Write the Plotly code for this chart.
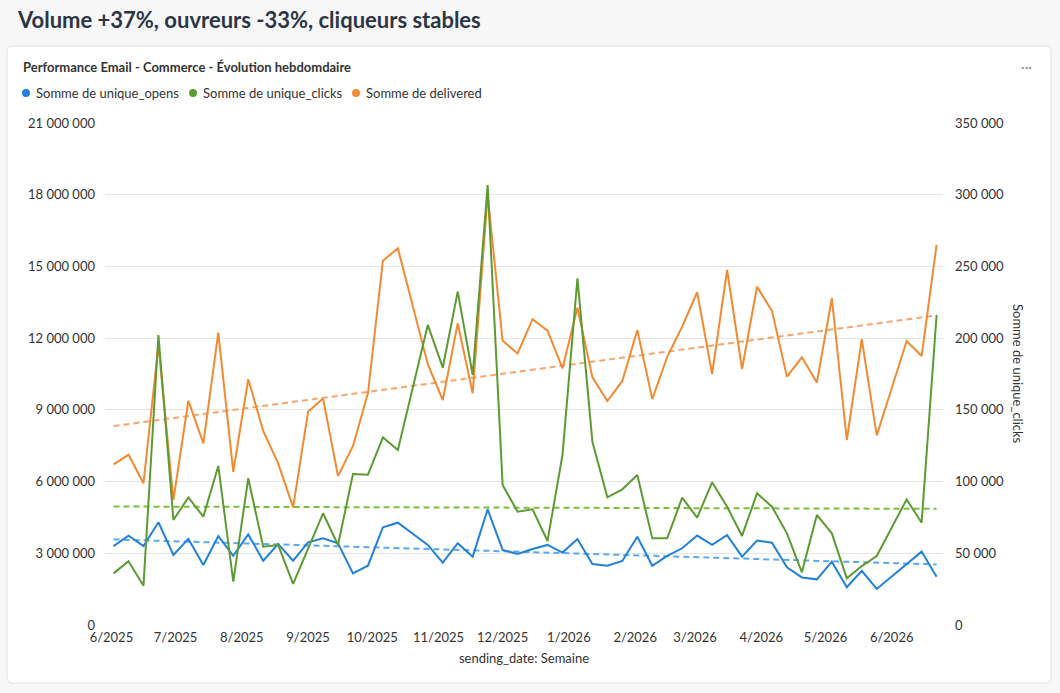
import numpy as np
import pandas as pd
import plotly.graph_objects as go

# weekly data (two weeks missing: 2025-10-20 and 2026-06-01)
weeks = [
    "2025-06-02", "2025-06-09", "2025-06-16", "2025-06-23", "2025-06-30",
    "2025-07-07", "2025-07-14", "2025-07-21", "2025-07-28", "2025-08-04",
    "2025-08-11", "2025-08-18", "2025-08-25", "2025-09-01", "2025-09-08",
    "2025-09-15", "2025-09-22", "2025-09-29", "2025-10-06", "2025-10-13",
    "2025-10-27", "2025-11-03", "2025-11-10", "2025-11-17", "2025-11-24",
    "2025-12-01", "2025-12-08", "2025-12-15", "2025-12-22", "2025-12-29",
    "2026-01-05", "2026-01-12", "2026-01-19", "2026-01-26", "2026-02-02",
    "2026-02-09", "2026-02-16", "2026-02-23", "2026-03-02", "2026-03-09",
    "2026-03-16", "2026-03-23", "2026-03-30", "2026-04-06", "2026-04-13",
    "2026-04-20", "2026-04-27", "2026-05-04", "2026-05-11", "2026-05-18",
    "2026-05-25", "2026-06-08", "2026-06-15", "2026-06-22",
]

delivered = [
    6.72, 7.12, 5.93, 11.71, 5.23, 9.38, 7.60, 12.23, 6.41, 10.28,
    8.12, 6.76, 4.92, 8.92, 9.48, 6.23, 7.49, 9.69, 15.24, 15.76,
    10.91, 9.41, 12.62, 9.69, 17.99, 11.89, 11.36, 12.79, 12.31, 10.74,
    13.27, 10.36, 9.37, 10.21, 12.34, 9.45, 11.22, 12.48, 13.92, 10.50,
    14.85, 10.71, 14.15, 13.14, 10.39, 11.20, 10.14, 13.67, 7.74, 11.96,
    7.93, 11.88, 11.25, 15.90,
]  # millions

unique_opens = [
    3.30, 3.74, 3.30, 4.30, 2.93, 3.60, 2.51, 3.72, 2.89, 3.79,
    2.69, 3.39, 2.69, 3.46, 3.63, 3.42, 2.16, 2.48, 4.09, 4.28,
    3.35, 2.61, 3.42, 2.86, 4.84, 3.14, 2.97, 3.18, 3.35, 3.03,
    3.60, 2.55, 2.48, 2.68, 3.69, 2.48, 2.89, 3.21, 3.74, 3.35,
    3.76, 2.86, 3.53, 3.44, 2.41, 1.99, 1.91, 2.65, 1.58, 2.27,
    1.51, 2.54, 3.07, 2.02,
]  # millions

unique_clicks = [
    36.0, 44.4, 27.4, 202.2, 73.2, 89.0, 75.5, 110.9, 30.2, 102.3,
    54.6, 55.8, 28.6, 53.5, 77.9, 55.8, 105.3, 104.8, 130.8, 122.0,
    209.2, 179.4, 232.4, 174.3, 306.8, 97.6, 79.0, 80.7, 58.6, 118.5,
    241.7, 127.8, 89.0, 94.6, 104.6, 60.4, 60.4, 88.8, 74.8, 99.5,
    82.5, 62.1, 91.8, 82.5, 63.9, 36.7, 76.7, 63.9, 32.5, 41.1,
    48.1, 87.6, 71.3, 216.1,
]  # thousands

series_names = ["Somme de unique_opens", "Somme de unique_clicks", "Somme de delivered"]

left_ticks = [0, 3e6, 6e6, 9e6, 12e6, 15e6, 18e6, 21e6]
right_ticks = [0, 50e3, 100e3, 150e3, 200e3, 250e3, 300e3, 350e3]

BLUE = "#2281d9"
GREEN = "#5e9a33"
ORANGE = "#f28a33"
BLUE_T = "#5ea7ec"
GREEN_T = "#7dbd3e"
ORANGE_T = "#f6a56d"
TXT = "#333333"
GRID = "#e5e5e5"
PAGE = "#f7f7f7"

# plot area in pixels
W, H = 1060, 693
L, R, T, B = 105, 943, 123, 625
PW, PH = R - L, B - T

def px(x):
    return (x - L) / PW

def py(y):
    return (B - y) / PH

def rounded_rect(x0, y0, x1, y1, r):
    rx, ry = r / PW, r / PH
    a, b, c, d = px(x0), py(y1), px(x1), py(y0)  # left, bottom, right, top
    return (f"M {a+rx},{d} L {c-rx},{d} Q {c},{d} {c},{d-ry} "
            f"L {c},{b+ry} Q {c},{b} {c-rx},{b} "
            f"L {a+rx},{b} Q {a},{b} {a},{b+ry} "
            f"L {a},{d-ry} Q {a},{d} {a+rx},{d} Z")

dates = pd.to_datetime(weeks)
opens_v = np.array(unique_opens) * 1e6
deliv_v = np.array(delivered) * 1e6
clicks_v = np.array(unique_clicks) * 1e3

# trends
days = (dates - dates[0]).days.values.astype(float)
ends = [dates[0], dates[-1]]

def trend_ols(vals):
    k, c = np.polyfit(days, vals, 1)
    return [c, k * days[-1] + c]

def trend_robust(vals):  # theil-sen, less pulled by the spikes
    i, j = np.triu_indices(len(days), 1)
    k = np.median((vals[j] - vals[i]) / (days[j] - days[i]))
    c = np.median(vals - k * days)
    return [c, k * days[-1] + c]

fig = go.Figure()

fig.add_trace(go.Scatter(x=ends, y=trend_ols(opens_v), mode="lines",
                         line=dict(color=BLUE_T, width=2, dash="6px,4px"), hoverinfo="skip"))
fig.add_trace(go.Scatter(x=ends, y=trend_ols(deliv_v), mode="lines",
                         line=dict(color=ORANGE_T, width=2, dash="6px,4px"), hoverinfo="skip"))
fig.add_trace(go.Scatter(x=ends, y=trend_robust(clicks_v), mode="lines", yaxis="y2",
                         line=dict(color=GREEN_T, width=2, dash="6px,4px"), hoverinfo="skip"))

fig.add_trace(go.Scatter(x=dates, y=opens_v, mode="lines", name=series_names[0],
                         line=dict(color=BLUE, width=2)))
fig.add_trace(go.Scatter(x=dates, y=clicks_v, mode="lines", name=series_names[1],
                         yaxis="y2", line=dict(color=GREEN, width=2)))
fig.add_trace(go.Scatter(x=dates, y=deliv_v, mode="lines", name=series_names[2],
                         line=dict(color=ORANGE, width=2)))

shapes = [dict(type="path", xref="paper", yref="paper", layer="below",
               path=rounded_rect(7, 46, 1051, 683, 6),
               fillcolor="white", line=dict(color="#e0e0e0", width=1))]

# legend row: dot + label (dot positions in pixels)
for name, col, dot_x in zip(series_names, [BLUE, GREEN, ORANGE], [26, 193, 356]):
    shapes.append(dict(type="circle", xref="paper", yref="paper",
                       x0=px(dot_x - 4), x1=px(dot_x + 4), y0=py(97), y1=py(89),
                       fillcolor=col, line=dict(width=0)))
    fig.add_annotation(text=name, xref="paper", yref="paper", x=px(dot_x + 8), y=py(93),
                       xanchor="left", yanchor="middle", showarrow=False,
                       font=dict(size=13, color=TXT))

fig.update_layout(
    width=W, height=H,
    margin=dict(l=L, r=W - R, t=T, b=H - B, pad=0, autoexpand=False),
    paper_bgcolor=PAGE,
    plot_bgcolor="white",
    font=dict(family="Lato, 'Open Sans', sans-serif", size=13, color=TXT),
    separators=", ",
    showlegend=False,
    xaxis=dict(
        range=["2025-05-29", "2026-06-25"],
        tickformat="%-m/%Y", dtick="M1", tick0="2025-06-01",
        showgrid=False, zeroline=False, showline=False, ticks="",
        ticklabelstandoff=3, tickfont=dict(size=13, color=TXT),
        title=dict(text="sending_date: Semaine", font=dict(size=13, color=TXT), standoff=9),
    ),
    yaxis=dict(
        range=[0, 21e6], tickvals=left_ticks, tickformat=",.0f",
        showgrid=True, gridcolor=GRID, gridwidth=1, zeroline=False,
        ticks="", ticklabelstandoff=9, tickfont=dict(size=13, color=TXT),
    ),
    yaxis2=dict(
        range=[0, 350e3], tickvals=right_ticks, tickformat=",.0f",
        overlaying="y", side="right", showgrid=False, zeroline=False,
        ticks="", ticklabelstandoff=11, tickfont=dict(size=13, color=TXT),
    ),
    shapes=shapes,
)

fig.add_annotation(text="<b>Volume +37%, ouvreurs -33%, cliqueurs stables</b>",
                   xref="paper", yref="paper", x=px(15), y=py(20), xanchor="left", yanchor="middle",
                   showarrow=False, font=dict(size=22, color="#2b3544"))
fig.add_annotation(text="<b>Performance Email - Commerce - Évolution hebdomdaire</b>",
                   xref="paper", yref="paper", x=px(21), y=py(67), xanchor="left", yanchor="middle",
                   showarrow=False, font=dict(size=13, color=TXT))
fig.add_annotation(text="···", xref="paper", yref="paper", x=px(1026), y=py(66),
                   xanchor="center", yanchor="middle", showarrow=False,
                   font=dict(size=14, color="#888888"))
fig.add_annotation(text="Somme de unique_clicks", xref="paper", yref="paper",
                   x=px(1018), y=0.5, xanchor="center", yanchor="middle", textangle=90,
                   showarrow=False, font=dict(size=13, color=TXT))

# page body has an 8px default margin; drop it so the figure sits at 0,0
fig.write_html("out.html", config={"displayModeBar": False},
               post_script=f"document.body.style.margin='0';document.body.style.background='{PAGE}';")
